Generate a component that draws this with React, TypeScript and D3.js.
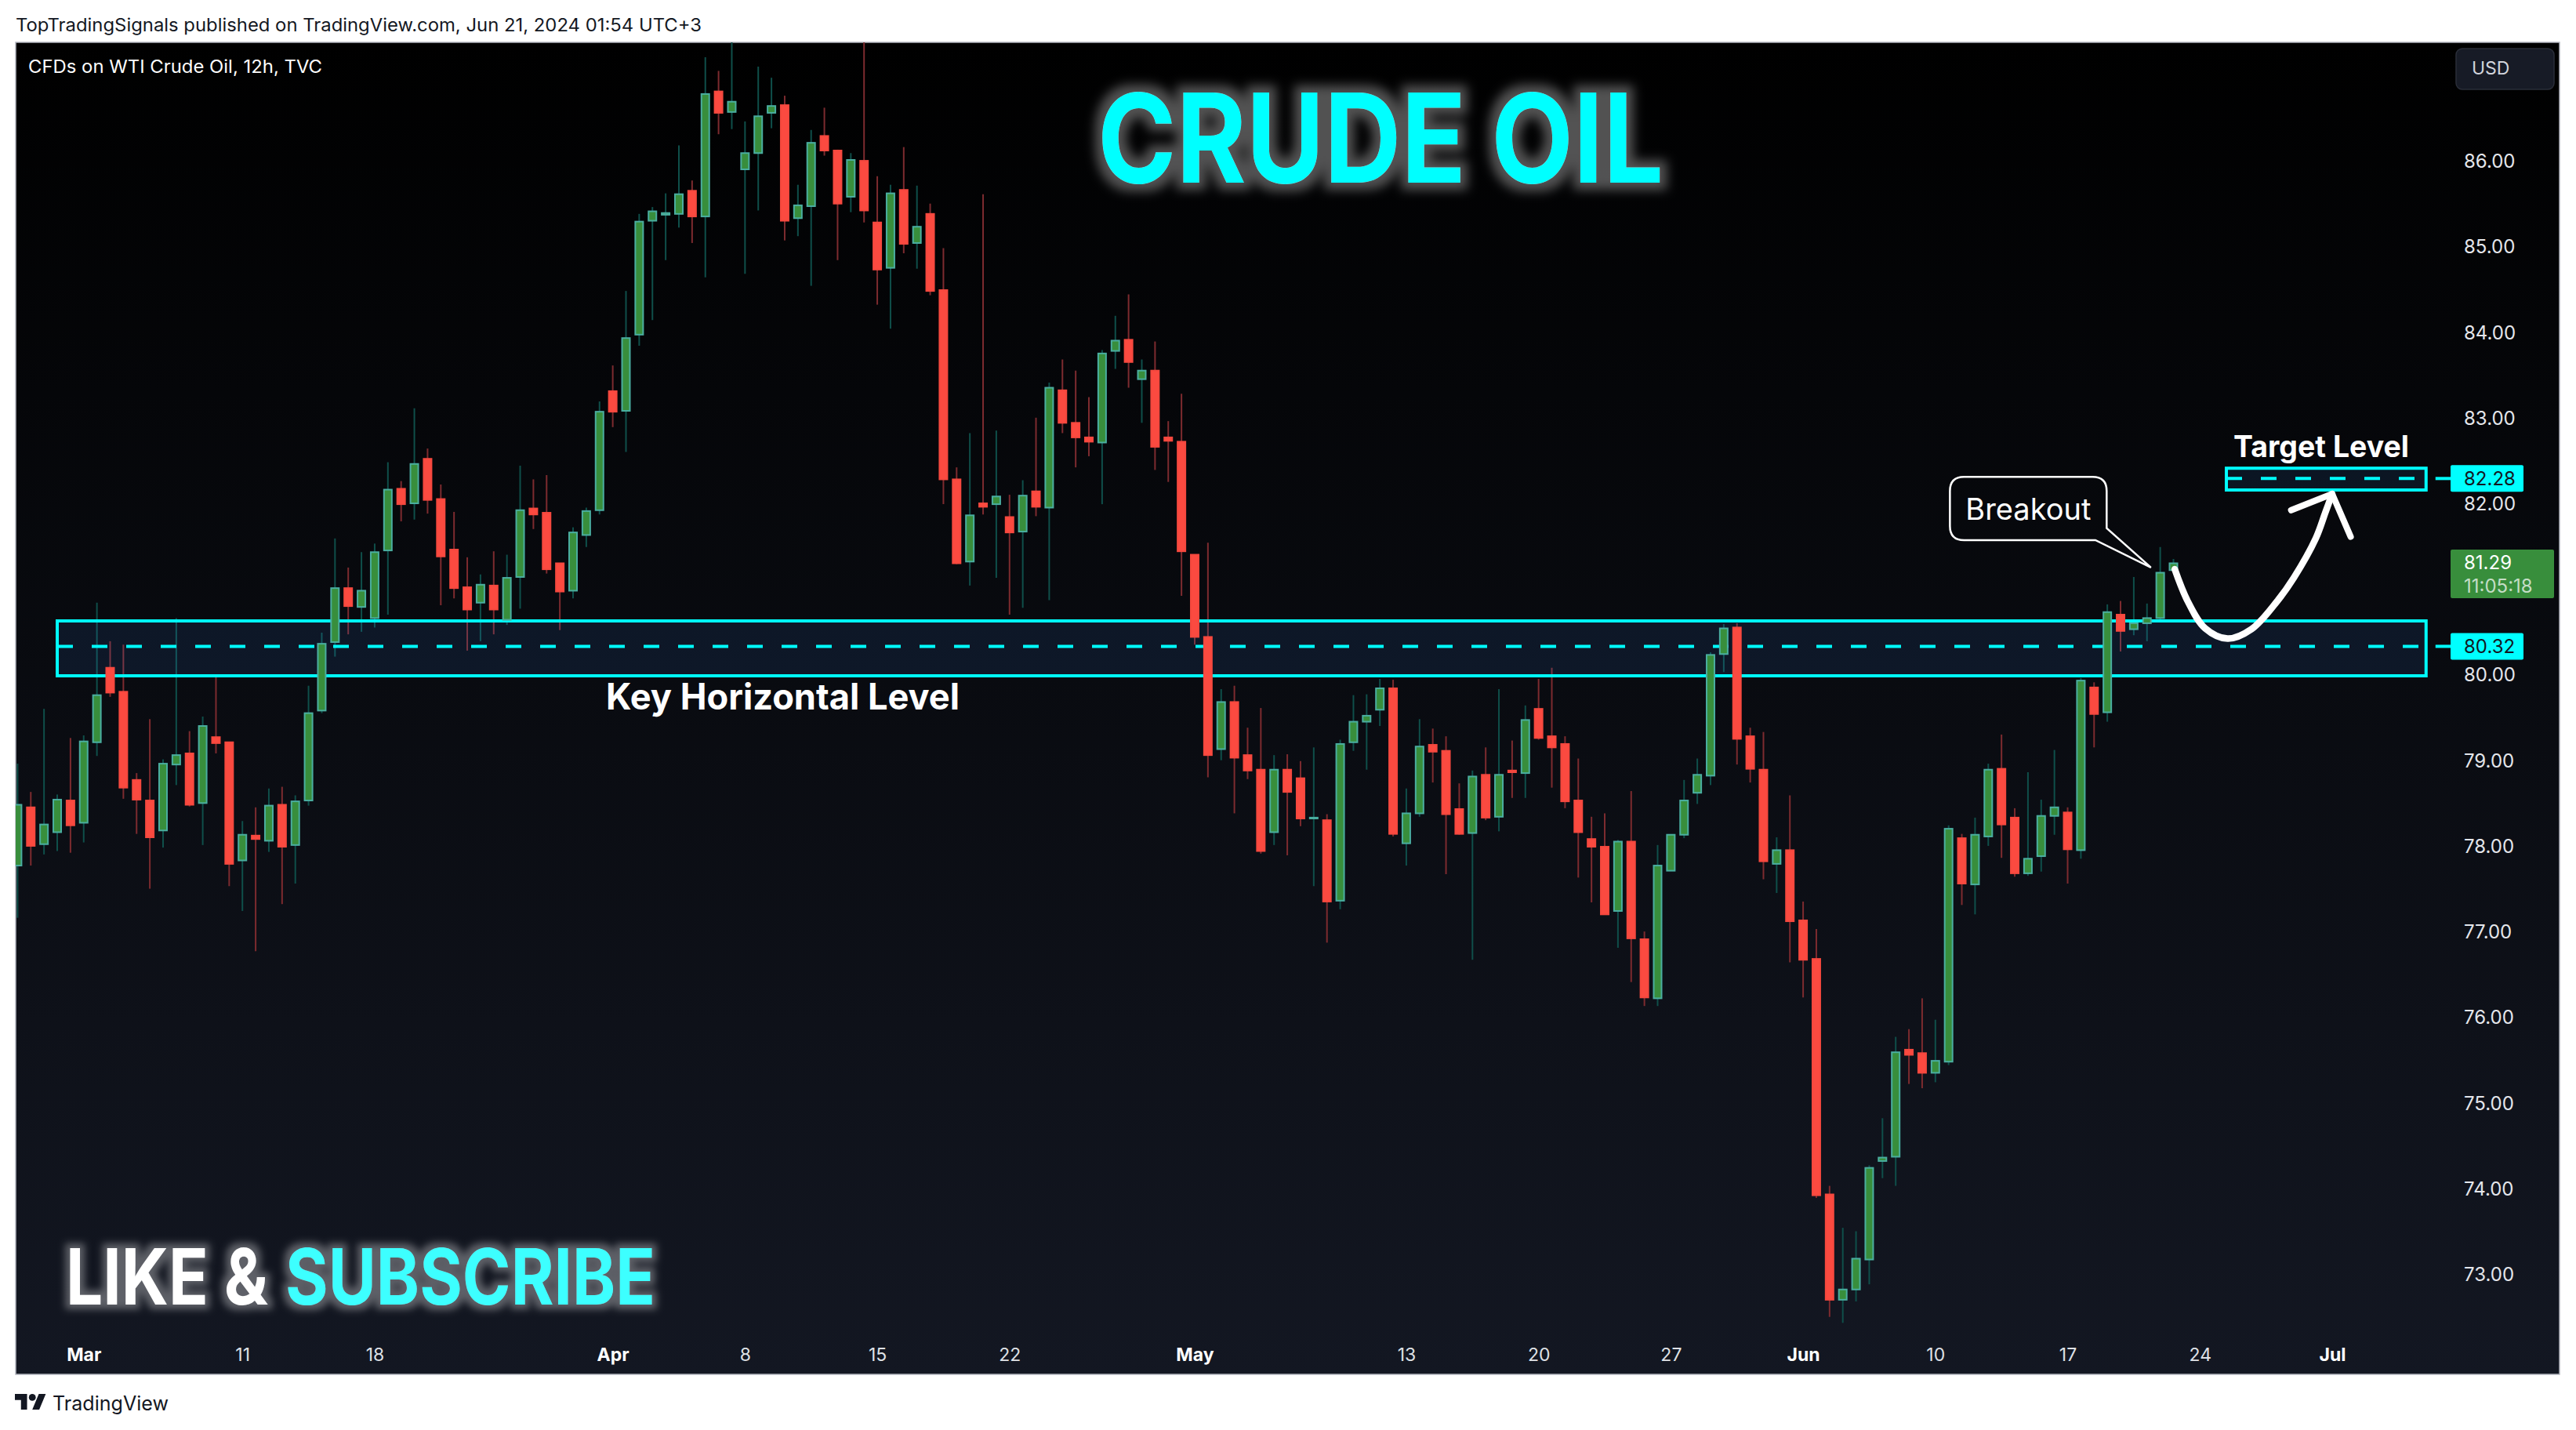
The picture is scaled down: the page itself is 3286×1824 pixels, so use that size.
import React, { useEffect, useRef } from 'react'
import * as d3 from 'd3'

const WIDTH = 3286
const HEIGHT = 1824

// 12h candles, oldest first
const opens = [
  77.76, 78.44, 78.01, 78.15, 78.52, 78.26, 79.20, 80.07, 79.79, 78.76,
  78.52, 78.17, 78.94, 79.07, 78.49, 79.26, 79.20, 77.82, 78.11, 78.05,
  78.47, 78.00, 78.52, 79.57, 80.37, 81.00, 80.78, 80.65, 81.44, 82.16,
  81.99, 82.51, 82.04, 81.45, 81.01, 80.83, 81.03, 80.63, 81.13, 81.93,
  81.88, 81.29, 80.97, 81.62, 81.91, 83.30, 83.07, 83.96, 85.29, 85.36,
  85.37, 85.64, 85.34, 86.80, 86.56, 85.89, 86.08, 86.55, 86.64, 85.32,
  85.46, 86.28, 86.11, 85.57, 85.99, 85.27, 84.74, 85.65, 85.03, 85.37,
  84.48, 82.27, 81.31, 81.99, 81.98, 81.83, 81.66, 82.13, 81.94, 83.31,
  82.93, 82.76, 82.70, 83.77, 83.90, 83.44, 83.54, 82.76, 82.71, 81.39,
  80.43, 79.12, 79.67, 79.05, 78.88, 78.15, 78.88, 78.78, 78.31, 78.29,
  77.35, 79.20, 79.44, 79.58, 79.83, 78.02, 78.37, 79.17, 79.10, 78.42,
  78.14, 78.82, 78.33, 78.87, 78.84, 79.59, 79.27, 79.18, 78.52, 78.07,
  77.98, 77.23, 78.04, 76.90, 76.21, 77.70, 78.12, 78.61, 78.81, 80.23,
  80.54, 79.27, 78.88, 77.78, 77.94, 77.12, 76.67, 73.92, 72.69, 72.81,
  73.16, 74.31, 74.36, 75.61, 75.57, 75.34, 75.47, 78.08, 77.54, 78.10,
  78.89, 78.32, 77.67, 77.87, 78.34, 78.38, 77.94, 79.84, 79.55, 80.69,
  80.52, 80.59, 80.65, 81.21,
]
const highs = [
  78.95, 78.62, 79.59, 78.59, 79.25, 79.28, 80.83, 80.38, 80.34, 78.84,
  79.47, 79.00, 80.65, 79.33, 79.50, 79.96, 79.20, 78.28, 78.44, 78.66,
  78.68, 78.58, 79.86, 80.48, 81.58, 81.24, 81.42, 81.52, 82.47, 82.25,
  83.10, 82.63, 82.21, 81.89, 81.36, 81.16, 81.43, 81.39, 82.43, 82.27,
  82.32, 81.29, 81.71, 81.94, 83.18, 83.60, 84.47, 85.37, 85.45, 85.61,
  86.17, 85.76, 87.20, 87.04, 87.45, 86.45, 87.09, 86.96, 86.75, 85.71,
  86.35, 86.61, 86.12, 86.08, 87.60, 85.81, 85.71, 86.15, 85.70, 85.49,
  84.97, 82.41, 82.81, 85.60, 82.84, 82.09, 82.26, 82.99, 83.40, 83.67,
  83.54, 83.23, 83.78, 84.18, 84.43, 83.67, 83.88, 82.95, 83.27, 81.39,
  81.53, 79.82, 79.86, 79.37, 79.60, 79.05, 79.06, 78.98, 79.14, 78.36,
  79.23, 79.75, 79.76, 79.94, 79.93, 78.66, 79.47, 79.36, 79.27, 78.72,
  78.87, 79.14, 79.82, 79.22, 79.63, 79.94, 80.07, 79.27, 79.01, 78.33,
  78.37, 78.06, 78.63, 76.99, 78.00, 78.12, 78.76, 79.01, 80.25, 80.58,
  80.59, 79.37, 79.32, 78.09, 78.58, 77.34, 77.02, 74.02, 73.53, 73.49,
  74.26, 74.81, 75.76, 75.85, 76.21, 75.96, 78.23, 78.13, 78.32, 78.95,
  79.29, 78.43, 78.85, 78.53, 79.11, 78.44, 79.95, 79.90, 80.81, 80.85,
  81.13, 80.82, 81.48, 81.34,
]
const lows = [
  77.15, 77.76, 77.89, 77.93, 77.91, 78.03, 79.04, 79.73, 78.54, 78.13,
  77.49, 77.97, 78.70, 78.45, 78.00, 79.07, 77.52, 77.23, 76.76, 77.92,
  77.31, 77.55, 78.46, 79.54, 80.20, 80.46, 80.49, 80.54, 80.69, 81.78,
  81.80, 81.87, 80.80, 80.88, 80.27, 80.38, 80.46, 80.57, 80.76, 81.69,
  81.17, 80.51, 80.88, 81.48, 81.86, 82.88, 82.59, 83.83, 84.13, 84.83,
  85.21, 85.03, 84.63, 86.30, 86.36, 84.67, 85.41, 86.37, 85.06, 85.11,
  84.53, 86.05, 84.83, 85.39, 85.27, 84.31, 84.03, 84.91, 84.73, 84.42,
  81.98, 81.28, 81.03, 81.86, 81.12, 80.69, 80.77, 81.84, 80.86, 82.81,
  82.41, 82.54, 81.98, 83.56, 83.34, 82.93, 82.38, 82.24, 80.91, 80.34,
  78.79, 78.99, 78.37, 78.77, 77.90, 78.00, 77.88, 78.22, 77.52, 76.86,
  77.25, 79.10, 78.88, 79.39, 78.10, 77.76, 78.33, 78.73, 77.66, 78.12,
  76.66, 78.29, 78.16, 78.55, 78.55, 79.23, 78.67, 78.43, 77.62, 77.33,
  77.19, 76.80, 76.40, 76.12, 76.12, 77.70, 78.08, 78.48, 78.70, 80.02,
  78.94, 78.73, 77.60, 77.44, 76.63, 76.22, 73.88, 72.49, 72.42, 72.67,
  72.87, 74.11, 74.02, 75.21, 75.16, 75.23, 75.43, 77.30, 77.19, 77.99,
  77.85, 77.63, 77.64, 77.69, 78.12, 77.55, 77.84, 79.14, 79.44, 80.26,
  80.45, 80.38, 80.62, 81.21,
]
const closes = [
  78.47, 77.99, 78.24, 78.53, 78.23, 79.21, 79.75, 79.78, 78.67, 78.53,
  78.09, 78.95, 79.05, 78.47, 79.39, 79.19, 77.78, 78.12, 78.07, 78.46,
  77.98, 78.51, 79.54, 80.35, 81.00, 80.79, 80.97, 81.42, 82.15, 81.98,
  82.45, 82.03, 81.37, 81.00, 80.75, 81.04, 80.75, 81.12, 81.91, 81.86,
  81.22, 80.96, 81.65, 81.90, 83.06, 83.06, 83.92, 85.28, 85.40, 85.38,
  85.60, 85.34, 86.77, 86.55, 86.68, 86.08, 86.51, 86.63, 85.29, 85.47,
  86.20, 86.11, 85.49, 86.00, 85.41, 84.72, 85.61, 85.02, 85.22, 84.47,
  82.27, 81.29, 81.85, 81.95, 82.07, 81.65, 82.08, 81.95, 83.34, 82.93,
  82.76, 82.71, 83.74, 83.89, 83.64, 83.54, 82.65, 82.72, 81.43, 80.43,
  79.05, 79.67, 79.02, 78.87, 77.93, 78.88, 78.62, 78.31, 78.32, 77.34,
  79.18, 79.44, 79.51, 79.83, 78.13, 78.37, 79.15, 79.09, 78.36, 78.13,
  78.80, 78.32, 78.82, 78.85, 79.46, 79.25, 79.14, 78.51, 78.15, 77.98,
  77.19, 78.04, 76.91, 76.22, 77.76, 78.12, 78.52, 78.82, 80.22, 80.53,
  79.24, 78.89, 77.81, 77.94, 77.11, 76.66, 73.91, 72.69, 72.81, 73.17,
  74.23, 74.35, 75.58, 75.55, 75.34, 75.48, 78.19, 77.55, 78.12, 78.88,
  78.24, 77.67, 77.84, 78.34, 78.44, 77.95, 79.92, 79.53, 80.72, 80.50,
  80.59, 80.65, 81.18, 81.29,
]

// 81.00 sits behind the last price tag in the original, so it is left out
const priceTicks = [73, 74, 75, 76, 77, 78, 79, 80, 82, 83, 84, 85, 86]
const dateTicks = [5, 17, 27, 45, 55, 65, 75, 89, 105, 115, 125, 135, 145, 155, 165, 175]
const dateLabels = ['Mar', '11', '18', 'Apr', '8', '15', '22', 'May', '13', '20', '27', 'Jun', '10', '17', '24', 'Jul']
const monthLabels = ['Mar', 'Apr', 'May', 'Jun', 'Jul']

// drawn annotations, as [bar, price]
const arrowCurve: [number, number][] = [
  [163.1, 81.22], [164.1, 80.84], [165.4, 80.53], [167.1, 80.41],
  [168.9, 80.52], [170.86, 80.85], [172.1, 81.12], [173.76, 81.58], [174.5, 81.89], [175.0, 82.10],
]
const arrowHead: [number, number][] = [[171.9, 81.91], [175.0, 82.10], [176.4, 81.60]]

const keyLevel = { top: 80.617, bottom: 79.976, price: 80.32, from: 3.0, to: 182.1 }
const targetLevel = { top: 82.40, bottom: 82.146, price: 82.28, from: 167.0, to: 182.1 }

const UI_FONT = 'Inter, "Noto Sans", sans-serif'
const CYAN = '#00ffff'

export default function App() {
  const svgRef = useRef<SVGSVGElement>(null)

  useEffect(() => {
    if (!svgRef.current) return
    const svg = d3.select(svgRef.current)
    svg.selectAll('*').remove()

    const x = d3.scaleLinear().domain([0, 163]).range([22.4, 2772.5])
    const y = d3.scaleLinear().domain([73, 86]).range([1624, 204])

    const defs = svg.append('defs')
    const grad = defs.append('linearGradient').attr('id', 'paneBg')
      .attr('x1', 0).attr('y1', 0).attr('x2', 0).attr('y2', 1)
    grad.append('stop').attr('offset', '0%').attr('stop-color', '#000000')
    grad.append('stop').attr('offset', '100%').attr('stop-color', '#131722')

    defs.append('clipPath').attr('id', 'paneClip')
      .append('rect').attr('x', 20).attr('y', 54).attr('width', 3245).attr('height', 1699)

    const addGlow = (id: string, dilate: number, blur: number, alpha: number) => {
      const f = defs.append('filter').attr('id', id)
        .attr('x', '-15%').attr('y', '-60%').attr('width', '130%').attr('height', '220%')
      f.append('feMorphology').attr('in', 'SourceAlpha').attr('operator', 'dilate')
        .attr('radius', dilate).attr('result', 'fat')
      f.append('feGaussianBlur').attr('in', 'fat').attr('stdDeviation', blur).attr('result', 'soft')
      f.append('feFlood').attr('flood-color', '#ffffff').attr('flood-opacity', alpha).attr('result', 'col')
      f.append('feComposite').attr('in', 'col').attr('in2', 'soft').attr('operator', 'in').attr('result', 'glow')
      const m = f.append('feMerge')
      m.append('feMergeNode').attr('in', 'glow')
      m.append('feMergeNode').attr('in', 'SourceGraphic')
    }
    addGlow('glowBig', 9, 7, 0.32)
    addGlow('glowSmall', 6, 5, 0.32)

    // page and pane
    svg.append('rect').attr('width', WIDTH).attr('height', HEIGHT).attr('fill', '#ffffff')
    svg.append('text').attr('x', 20).attr('y', 40)
      .attr('font-family', UI_FONT).attr('font-size', 22.5).attr('fill', '#131722')
      .attr('textLength', 875).attr('lengthAdjust', 'spacingAndGlyphs')
      .text('TopTradingSignals published on TradingView.com, Jun 21, 2024 01:54 UTC+3')
    svg.append('rect').attr('x', 20).attr('y', 54).attr('width', 3245).attr('height', 1699)
      .attr('fill', 'url(#paneBg)').attr('stroke', '#b2b5be').attr('stroke-width', 1.5)

    const pane = svg.append('g').attr('clip-path', 'url(#paneClip)')

    const bars = d3.range(opens.length)

    // wicks sit under the zones, the bodies on top of them
    pane.append('g').selectAll('line').data(bars).join('line')
      .attr('x1', (i) => x(i)).attr('x2', (i) => x(i))
      .attr('y1', (i) => y(highs[i])).attr('y2', (i) => y(lows[i]))
      .attr('stroke', (i) => (closes[i] >= opens[i] ? '#0f4f4a' : '#7d2b2f'))
      .attr('stroke-width', 2)

    for (const level of [keyLevel, targetLevel]) {
      const g = pane.append('g')
      g.append('rect')
        .attr('x', x(level.from)).attr('width', x(level.to) - x(level.from))
        .attr('y', y(level.top)).attr('height', y(level.bottom) - y(level.top))
        .attr('fill', 'rgb(60,150,255)').attr('fill-opacity', 0.1)
        .attr('stroke', CYAN).attr('stroke-width', 4)
      g.append('line')
        .attr('x1', x(level.from)).attr('x2', x(level.to))
        .attr('y1', y(level.price)).attr('y2', y(level.price))
        .attr('stroke', CYAN).attr('stroke-width', 4).attr('stroke-dasharray', '20 24')
      g.append('line')
        .attr('x1', x(level.to) + 12).attr('x2', 3126)
        .attr('y1', y(level.price)).attr('y2', y(level.price))
        .attr('stroke', CYAN).attr('stroke-width', 4)
    }

    pane.append('g').selectAll('rect').data(bars).join('rect')
      .attr('x', (i) => x(i) - 5)
      .attr('width', 10)
      .attr('y', (i) => y(Math.max(opens[i], closes[i])))
      .attr('height', (i) => Math.max(Math.abs(y(opens[i]) - y(closes[i])), 1))
      .attr('fill', (i) => (closes[i] >= opens[i] ? '#388e3c' : '#fb4a40'))
      .attr('stroke', (i) => (closes[i] >= opens[i] ? '#4aaea0' : '#f5483e'))
      .attr('stroke-width', 2)

    // price axis
    const yAxis = d3.axisRight(y).tickValues(priceTicks).tickSize(0).tickPadding(0)
      .tickFormat((d) => d3.format('.2f')(d as number))
    const yG = svg.append('g').attr('transform', 'translate(3143,0)').call(yAxis)
    yG.select('.domain').remove()
    yG.selectAll('text').attr('dy', '0.4em')
      .attr('font-family', UI_FONT).attr('font-size', 24).attr('fill', '#e4e6eb')

    // time axis
    const xAxis = d3.axisBottom(x).tickValues(dateTicks).tickSize(0).tickPadding(0)
      .tickFormat((_, i) => dateLabels[i])
    const xG = svg.append('g').attr('transform', 'translate(0,1728)').call(xAxis)
    xG.select('.domain').remove()
    xG.selectAll<SVGTextElement, number>('text')
      .attr('y', 0).attr('dy', '0.36em')
      .attr('font-family', UI_FONT).attr('font-size', 23)
      .attr('font-weight', (_, i) => (monthLabels.includes(dateLabels[i]) ? 700 : 400))
      .attr('fill', (_, i) => (monthLabels.includes(dateLabels[i]) ? '#ffffff' : '#dfe1e6'))

    // price tags
    const tagText = (txt: string, ty: number, fill: string) =>
      svg.append('text').attr('x', 3143).attr('y', ty).attr('dy', '0.36em')
        .attr('font-family', UI_FONT).attr('font-size', 24).attr('fill', fill).text(txt)
    for (const level of [keyLevel, targetLevel]) {
      svg.append('rect').attr('x', 3126).attr('width', 93).attr('height', 34).attr('rx', 2)
        .attr('y', y(level.price) - 17).attr('fill', CYAN)
      tagText(d3.format('.2f')(level.price), y(level.price), '#131722')
    }
    svg.append('rect').attr('x', 3126).attr('y', 701).attr('width', 132).attr('height', 62)
      .attr('rx', 2).attr('fill', '#388e3c')
    tagText('81.29', 717, '#ffffff')
    tagText('11:05:18', 747, '#c4ddc6')

    // USD button
    svg.append('rect').attr('x', 3133).attr('y', 62).attr('width', 125).attr('height', 52).attr('rx', 8)
      .attr('fill', '#171b26').attr('stroke', '#2a2e39').attr('stroke-width', 1.5)
    svg.append('text').attr('x', 3153).attr('y', 87).attr('dy', '0.36em')
      .attr('font-family', UI_FONT).attr('font-size', 23).attr('fill', '#d1d4dc').text('USD')

    svg.append('text').attr('x', 36).attr('y', 93)
      .attr('font-family', UI_FONT).attr('font-size', 22.5).attr('fill', '#ffffff')
      .attr('textLength', 375).attr('lengthAdjust', 'spacingAndGlyphs')
      .text('CFDs on WTI Crude Oil, 12h, TVC')

    // overlay titles
    const overlay = (txt: string, tx: number, ty: number, size: number, len: number, fill: string, filter: string) =>
      svg.append('text').attr('x', tx).attr('y', ty)
        .attr('font-family', UI_FONT).attr('font-weight', 700).attr('font-size', size).attr('fill', fill)
        .attr('textLength', len).attr('lengthAdjust', 'spacingAndGlyphs')
        .attr('filter', `url(#${filter})`).text(txt)
    overlay('CRUDE OIL', 1400, 233, 158, 722, CYAN, 'glowBig')
    overlay('LIKE &', 84, 1664, 99, 258, '#ffffff', 'glowSmall')
    overlay('SUBSCRIBE', 364, 1664, 99, 472, '#3dffff', 'glowSmall')

    const label = (txt: string, tx: number, ty: number, size: number, len: number) =>
      svg.append('text').attr('x', tx).attr('y', ty)
        .attr('font-family', UI_FONT).attr('font-weight', 700).attr('font-size', size).attr('fill', '#ffffff')
        .attr('textLength', len).attr('lengthAdjust', 'spacingAndGlyphs').text(txt)
    label('Key Horizontal Level', 773, 905, 46, 451)
    label('Target Level', 2849, 583, 38, 224)

    // breakout callout
    const bx0 = x(146.1), bx1 = x(157.95), by0 = y(82.3), by1 = y(81.56), r = 18
    const callout = d3.path()
    callout.moveTo(bx0 + r, by0)
    callout.lineTo(bx1 - r, by0)
    callout.quadraticCurveTo(bx1, by0, bx1, by0 + r)
    callout.lineTo(bx1, y(81.7))
    callout.lineTo(x(161.3), y(81.24))
    callout.lineTo(x(157.1), by1)
    callout.lineTo(bx0 + r, by1)
    callout.quadraticCurveTo(bx0, by1, bx0, by1 - r)
    callout.lineTo(bx0, by0 + r)
    callout.quadraticCurveTo(bx0, by0, bx0 + r, by0)
    callout.closePath()
    svg.append('path').attr('d', callout.toString()).attr('fill', 'none')
      .attr('stroke', '#ffffff').attr('stroke-width', 2.5)
    svg.append('text').attr('x', (bx0 + bx1) / 2).attr('y', 649).attr('dy', '0.36em')
      .attr('text-anchor', 'middle').attr('font-family', UI_FONT).attr('font-size', 38)
      .attr('fill', '#ffffff').attr('textLength', 160).attr('lengthAdjust', 'spacingAndGlyphs')
      .text('Breakout')

    // projected move
    const line = d3.line<[number, number]>().x((d) => x(d[0])).y((d) => y(d[1]))
    svg.append('path').attr('d', line.curve(d3.curveCatmullRom)(arrowCurve))
      .attr('fill', 'none').attr('stroke', '#ffffff').attr('stroke-width', 8.5).attr('stroke-linecap', 'round')
    svg.append('path').attr('d', line.curve(d3.curveLinear)(arrowHead))
      .attr('fill', 'none').attr('stroke', '#ffffff').attr('stroke-width', 8)
      .attr('stroke-linecap', 'round').attr('stroke-linejoin', 'round')

    // footer logo
    const logo = svg.append('g').attr('transform', 'translate(19,1773.5) scale(1.11)').attr('fill', '#131722')
    logo.append('path').attr('d', 'M14 22H7V11H0V4h14v18zM28 22h-8l7.5-18h8L28 22z')
    logo.append('circle').attr('cx', 20).attr('cy', 8).attr('r', 4)
    svg.append('text').attr('x', 67).attr('y', 1790).attr('dy', '0.36em')
      .attr('font-family', UI_FONT).attr('font-size', 25).attr('fill', '#131722')
      .attr('textLength', 148).attr('lengthAdjust', 'spacingAndGlyphs').text('TradingView')
  }, [])

  return (
    <svg
      ref={svgRef}
      width={WIDTH}
      height={HEIGHT}
      style={{ position: 'fixed', left: 0, top: 0, display: 'block' }}
    />
  )
}
